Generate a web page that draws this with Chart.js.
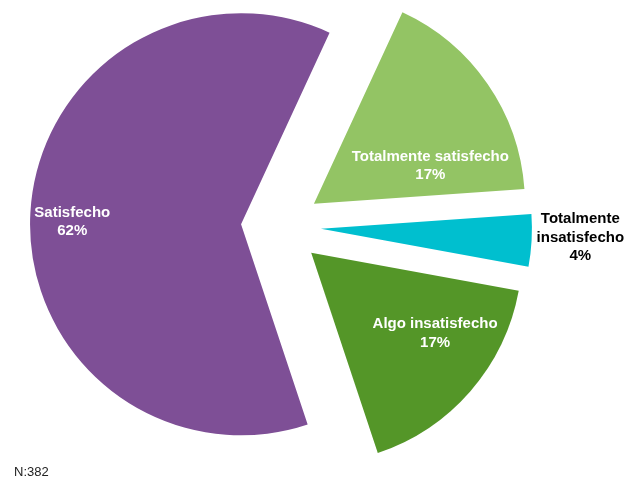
<!DOCTYPE html>
<html lang="es">
<head>
<meta charset="utf-8">
<title>Satisfacción</title>
<script src="https://cdn.jsdelivr.net/npm/chart.js@4.4.1/dist/chart.umd.min.js"></script>
<style>
    html, body { margin: 0; padding: 0; background: #ffffff; }
    #wrap { position: relative; width: 624px; height: 480px; }
    #nota {
        position: absolute; left: 14px; top: 464px;
        font: 13px "Liberation Sans", Arial, sans-serif; color: #222;
    }
</style>
</head>
<body>
<div id="wrap">
    <canvas id="satisfaccionChart" width="624" height="480"></canvas>
    <div id="nota">N:382</div>
</div>
<script>
// Datos del gráfico (porcentaje de respuestas, N = 382)
const categorias = ['Totalmente satisfecho', 'Totalmente insatisfecho', 'Algo insatisfecho', 'Satisfecho'];
const porcentajes = [17, 4, 17, 62];
const lineasEtiqueta = [
    ['Totalmente satisfecho'],
    ['Totalmente', 'insatisfecho'],
    ['Algo insatisfecho'],
    ['Satisfecho']
];
const colores = ['#93C464', '#00BFCF', '#549628', '#7E4F96'];

// Estilo de las etiquetas: ángulo (grados desde arriba) y distancia relativa al radio,
// medidos desde el vértice de cada porción desplazada
const EXPLOSION = 40;
const posEtiqueta = [
    { ang: 72, dist: 0.58, color: '#ffffff' },
    { ang: 92, dist: 1.23, color: '#000000' },
    { ang: 123, dist: 0.70, color: '#ffffff' },
    { ang: 270.9, dist: 0.80, color: '#ffffff' }
];

// Dibuja cada porción separada del centro (pastel explotado)
const explosionPlugin = {
    id: 'explosion',
    beforeDatasetDraw(chart, args) {
        const ctx = chart.ctx;
        args.meta.data.forEach(arc => {
            const mid = (arc.startAngle + arc.endAngle) / 2;
            ctx.save();
            ctx.translate(Math.cos(mid) * EXPLOSION, Math.sin(mid) * EXPLOSION);
            arc.draw(ctx);
            ctx.restore();
        });
        return false;
    }
};

// Etiquetas de categoría + porcentaje
const etiquetasPlugin = {
    id: 'etiquetas',
    afterDatasetsDraw(chart) {
        const ctx = chart.ctx;
        const meta = chart.getDatasetMeta(0);
        ctx.save();
        ctx.font = 'bold 15px "Liberation Sans", Arial, sans-serif';
        ctx.textAlign = 'center';
        ctx.textBaseline = 'middle';
        meta.data.forEach((arc, i) => {
            const mid = (arc.startAngle + arc.endAngle) / 2;
            const vx = arc.x + Math.cos(mid) * EXPLOSION;
            const vy = arc.y + Math.sin(mid) * EXPLOSION;
            const p = posEtiqueta[i];
            const a = p.ang * Math.PI / 180;
            const cx = vx + Math.sin(a) * p.dist * arc.outerRadius;
            const cy = vy - Math.cos(a) * p.dist * arc.outerRadius;
            const lineas = [...lineasEtiqueta[i], porcentajes[i] + '%'];
            const alto = 18.5;
            const y0 = cy - (lineas.length - 1) * alto / 2;
            ctx.fillStyle = p.color;
            lineas.forEach((t, k) => ctx.fillText(t, cx, y0 + k * alto));
        });
        ctx.restore();
    }
};

function initChart() {
    const canvas = document.getElementById('satisfaccionChart');
    if (!canvas) {
        console.warn('Canvas introuvable');
        return;
    }
    new Chart(canvas.getContext('2d'), {
        type: 'pie',
        data: {
            labels: categorias,
            datasets: [{
                data: porcentajes,
                backgroundColor: colores,
                borderWidth: 0
            }]
        },
        options: {
            responsive: false,
            animation: false,
            events: [],
            rotation: 24.8,
            radius: 211,
            layout: { padding: { left: 0, right: 62, top: 0, bottom: 27 } },
            plugins: {
                legend: { display: false },
                tooltip: { enabled: false }
            }
        },
        plugins: [explosionPlugin, etiquetasPlugin]
    });
}

if (document.readyState === 'complete') {
    initChart();
} else {
    document.addEventListener('DOMContentLoaded', initChart);
}
</script>
</body>
</html>
